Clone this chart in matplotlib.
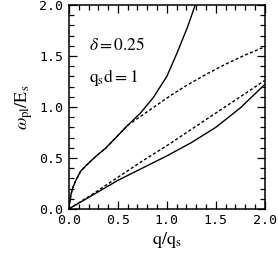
import matplotlib
matplotlib.use("Agg")
import matplotlib.pyplot as plt
from matplotlib.ticker import MultipleLocator

# Värden
x_up_solid = [0.0, 0.005, 0.013, 0.02, 0.04, 0.07, 0.12, 0.18, 0.28, 0.38, 0.48,
              0.6, 0.73, 0.86, 1.0, 1.1, 1.21, 1.29]
y_up_solid = [0.0, 0.05, 0.09, 0.14, 0.21, 0.28, 0.37, 0.43, 0.52, 0.60, 0.70,
              0.82, 0.94, 1.09, 1.30, 1.52, 1.78, 2.0]

x_up_dash = [0.0, 0.005, 0.013, 0.02, 0.04, 0.07, 0.12, 0.18, 0.28, 0.38, 0.48,
             0.6, 0.75, 0.9, 1.05, 1.2, 1.4, 1.6, 1.8, 2.0]
y_up_dash = [0.0, 0.05, 0.09, 0.14, 0.21, 0.28, 0.37, 0.43, 0.52, 0.60, 0.70,
             0.82, 0.92, 1.02, 1.12, 1.21, 1.32, 1.42, 1.51, 1.59]

x_lo_solid = [0.0, 0.25, 0.5, 0.75, 1.0, 1.25, 1.5, 1.75, 2.0]
y_lo_solid = [0.0, 0.14, 0.28, 0.40, 0.52, 0.65, 0.80, 0.99, 1.22]

x_lo_dash = [0.0, 0.25, 0.5, 0.75, 1.0, 1.25, 1.5, 1.75, 2.0]
y_lo_dash = [0.0, 0.15, 0.31, 0.47, 0.62, 0.78, 0.94, 1.10, 1.26]

ticks = [0.0, 0.5, 1.0, 1.5, 2.0]
tick_labels = ["0.0", "0.5", "1.0", "1.5", "2.0"]

plt.rcParams["mathtext.fontset"] = "stix"

fig = plt.figure(figsize=(2.78, 2.56), dpi=100)
ax = fig.add_axes([0.248, 0.184, 0.704, 0.796])

ax.plot(x_up_solid, y_up_solid, color="black", lw=1.0)
ax.plot(x_up_dash, y_up_dash, color="black", lw=1.0, ls=(0, (2.2, 1.6)))
ax.plot(x_lo_solid, y_lo_solid, color="black", lw=1.0)
ax.plot(x_lo_dash, y_lo_dash, color="black", lw=1.0, ls=(0, (2.2, 1.6)))

ax.set_xlim(0, 2)
ax.set_ylim(0, 2)
ax.set_xticks(ticks)
ax.set_yticks(ticks)
ax.set_xticklabels(tick_labels, family="DejaVu Sans Mono", fontsize=9.5)
ax.set_yticklabels(tick_labels, family="DejaVu Sans Mono", fontsize=9.5)
ax.xaxis.set_minor_locator(MultipleLocator(0.1))
ax.yaxis.set_minor_locator(MultipleLocator(0.1))
ax.tick_params(which="both", direction="in", top=True, right=True, width=0.9)
ax.tick_params(which="major", length=6, pad=4)
ax.tick_params(which="minor", length=3.5)
for s in ax.spines.values():
    s.set_linewidth(1.1)

ax.set_xlabel(r"$\mathrm{q/q_s}$", fontsize=13, labelpad=2)
ax.set_ylabel(r"$\omega_{\mathrm{pl}}/\mathrm{E_s}$", fontsize=13, labelpad=3)

ax.text(0.2, 1.61, r"$\delta\mathrm{=0.25}$", fontsize=12.5, va="center")
ax.text(0.2, 1.29, r"$\mathrm{q_sd=1}$", fontsize=12.5, va="center")

fig.savefig("out.png", dpi=100)
